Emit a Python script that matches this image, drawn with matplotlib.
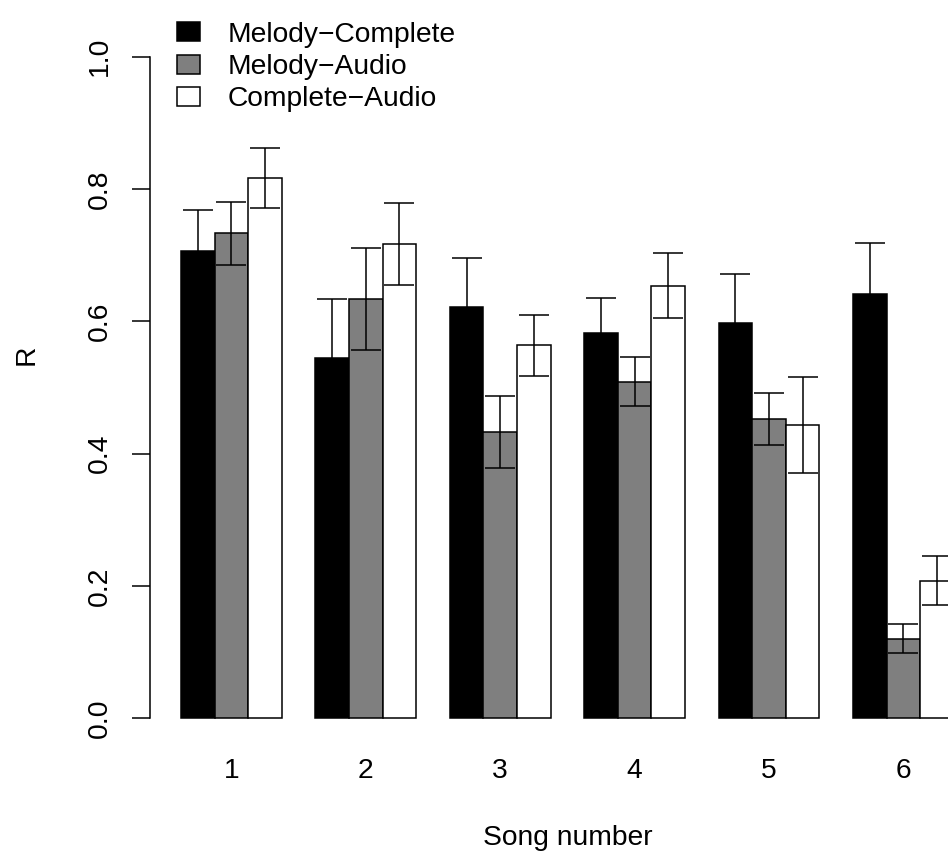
import numpy as np
import matplotlib
matplotlib.use('Agg')
import matplotlib.pyplot as plt

plt.rcParams['font.family'] = ['Liberation Sans', 'DejaVu Sans']

# mean R per song and comparison, with error bar half-widths
songs = ['1', '2', '3', '4', '5', '6']
series = ['Melody\u2212Complete', 'Melody\u2212Audio', 'Complete\u2212Audio']
mel_comp = [0.706, 0.544, 0.621, 0.582, 0.597, 0.642]
mel_comp_err = [0.063, 0.089, 0.075, 0.053, 0.074, 0.077]
mel_audio = [0.733, 0.634, 0.433, 0.509, 0.452, 0.120]
mel_audio_err = [0.048, 0.077, 0.054, 0.037, 0.039, 0.022]
comp_audio = [0.817, 0.717, 0.564, 0.654, 0.443, 0.208]
comp_audio_err = [0.045, 0.062, 0.046, 0.049, 0.073, 0.037]

values = [mel_comp, mel_audio, comp_audio]
errors = [mel_comp_err, mel_audio_err, comp_audio_err]
colours = ['black', '#7F7F7F', 'white']

FS = 20.3
LW = 1.1
fig = plt.figure(figsize=(9.48, 8.61), dpi=100)
ax = fig.add_axes([0.15834, 0.13194, 0.88038, 0.91289])

n = len(songs)
group_start = 1 + 4 * np.arange(n)   # R barplot beside=TRUE, space=c(0,1)
for j in range(3):
    x = group_start + j
    ax.bar(x, values[j], width=1.0, align='edge', color=colours[j],
           edgecolor='black', linewidth=LW, label=series[j], zorder=2)
    ax.errorbar(x + 0.5, values[j], yerr=errors[j], fmt='none',
                ecolor='black', elinewidth=LW, capsize=10.8,
                capthick=LW, zorder=3)

ax.set_xlim(0.08, 24.92)
ax.set_ylim(-0.044, 1.144)

for side in ['top', 'right', 'bottom']:
    ax.spines[side].set_visible(False)
ax.spines['left'].set_bounds(0, 1)
ax.spines['left'].set_linewidth(LW)

ax.set_yticks([0.0, 0.2, 0.4, 0.6, 0.8, 1.0])
ax.set_yticklabels(['0.0', '0.2', '0.4', '0.6', '0.8', '1.0'],
                   rotation=90, va='center')
ax.tick_params(axis='y', length=13, width=LW, pad=14, labelsize=FS)
ax.set_xticks(group_start + 1.5)
ax.set_xticklabels(songs)
ax.tick_params(axis='x', length=0, pad=7.5, labelsize=FS)

ax.set_xlabel('Song number', fontsize=FS, va='center')
ax.xaxis.set_label_coords(0.5, -(838 - 747.4) / 786.0)
ax.set_ylabel('R', fontsize=FS, va='center')
ax.yaxis.set_label_coords(-(150.1 - 27) / 834.6, 0.5)

ax.legend(loc='upper left', bbox_to_anchor=(177 / 948, 1 - 21.5 / 861),
          bbox_transform=fig.transFigure, frameon=False, fontsize=FS,
          handlelength=0.82, handleheight=0.67, handletextpad=0.96,
          labelspacing=0.23, borderpad=0, borderaxespad=0)

fig.savefig('out.png', dpi=100)
